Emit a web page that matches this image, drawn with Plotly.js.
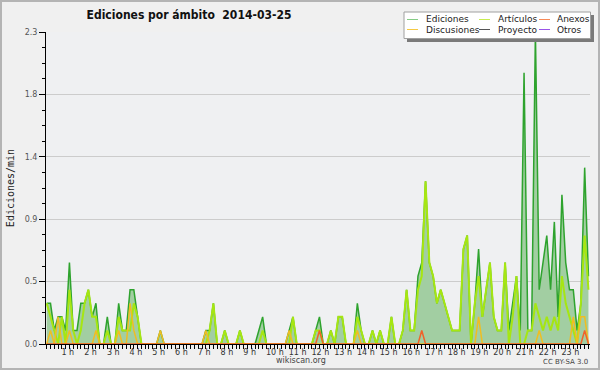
<!DOCTYPE html>
<html><head><meta charset="utf-8">
<script src="https://cdn.plot.ly/plotly-3.0.1.min.js"></script>
<style>
html,body{margin:0;padding:0;background:#f0f0f0;}
#chart{width:600px;height:370px;}
#frame{position:absolute;left:0;top:0;width:600px;height:370px;box-sizing:border-box;border:2px solid #b4b4b4;pointer-events:none;}
</style>
</head><body>
<div id="chart"></div><div id="frame"></div>
<script>
// 10-minute slots, 2014-03-25, values in edits per minute (one row = 2 hours)
const slotsPerHour = 6;
const ediciones = [
  0.3,0.3,0.1,0.2,0.2,0.1,0.6,0.1,0.1,0.3,0.3,0.4,
  0.2,0.3,0,0,0.2,0,0,0.3,0.1,0.1,0.4,0.4,
  0.2,0,0,0,0,0,0.1,0,0,0,0,0,
  0,0,0,0,0,0,0.1,0.1,0.3,0,0,0.1,
  0,0,0,0.1,0,0,0,0,0.1,0.2,0,0,
  0,0,0,0,0.1,0.2,0,0,0,0,0,0.1,
  0.2,0,0,0.1,0,0.2,0.2,0,0,0,0.3,0.1,
  0,0,0.1,0,0.1,0,0,0.2,0,0,0.1,0.4,
  0.1,0.1,0.5,0.6,1.2,0.6,0.5,0.3,0.4,0.3,0.2,0.1,
  0.1,0.1,0.7,0.8,0,0.3,0.7,0.2,0.4,0.6,0.2,0.1,
  0.1,0.6,0.1,0.3,0.5,0.1,2.0,0.1,0.1,2.3,0.4,0.6,
  0.8,0.4,0.9,0.2,1.1,0.6,0.4,0.4,0.1,0.3,1.3,0.5
];
const articulos = [
  0.3,0.2,0.1,0,0.2,0,0.4,0.1,0,0.1,0.3,0.4,
  0.2,0.2,0,0,0.1,0,0,0.2,0.1,0.1,0.1,0.3,
  0.2,0,0,0,0,0,0,0,0,0,0,0,
  0,0,0,0,0,0,0,0.1,0.3,0,0,0.1,
  0,0,0,0.1,0,0,0,0,0,0.1,0,0,
  0,0,0,0,0,0.2,0,0,0,0,0,0.1,
  0.1,0,0,0.1,0,0.2,0.2,0,0,0,0.2,0.1,
  0,0,0.1,0,0.1,0,0,0.2,0,0,0.1,0.4,
  0.1,0.1,0.4,0.5,1.2,0.6,0.5,0.3,0.4,0.3,0.2,0.1,
  0.1,0.1,0.7,0.8,0,0.3,0.5,0.2,0.4,0.6,0.2,0.1,
  0.1,0.6,0,0.2,0.5,0,0,0.1,0.1,0.3,0.2,0.1,
  0.2,0.1,0.2,0.1,0.5,0.3,0.2,0.1,0,0.3,0.8,0.4
];
const discusiones = [
  0,0.1,0,0.2,0,0,0.1,0,0,0,0,0,
  0,0.1,0,0,0,0,0,0.1,0,0,0.3,0.1,
  0,0,0,0,0,0,0.1,0,0,0,0,0,
  0,0,0,0,0,0,0.1,0,0,0,0,0,
  0,0,0,0,0,0,0,0,0,0,0,0,
  0,0,0,0,0.1,0,0,0,0,0,0,0,
  0,0,0,0,0,0,0,0,0,0,0.1,0,
  0,0,0,0,0,0,0,0,0,0,0,0,
  0,0,0,0,0,0,0,0,0,0,0,0,
  0,0,0,0,0,0,0.2,0,0,0,0,0,
  0,0,0,0,0,0,0,0,0,0,0.1,0,
  0,0,0,0,0,0,0,0.2,0,0.2,0.2,0
];
const anexos = [
  0,0,0,0,0,0,0,0,0,0,0,0,
  0,0,0,0,0,0,0,0,0,0,0,0,
  0,0,0,0,0,0,0,0,0,0,0,0,
  0,0,0,0,0,0,0,0,0,0,0,0,
  0,0,0,0,0,0,0,0,0,0,0,0,
  0,0,0,0,0,0,0,0,0,0,0,0,
  0.1,0,0,0,0,0,0,0,0,0,0,0,
  0,0,0,0,0,0,0,0,0,0,0,0,
  0,0,0,0.1,0,0,0,0,0,0,0,0,
  0,0,0,0,0,0,0,0,0,0,0,0,
  0,0,0,0,0,0,0,0,0,0,0,0,
  0,0,0,0,0,0,0,0,0,0,0.1,0
];
const hourTicks = [1,2,3,4,5,6,7,8,9,10,11,12,13,14,15,16,17,18,19,20,21,22,23];
const hourLabels = ['1 h','2 h','3 h','4 h','5 h','6 h','7 h','8 h','9 h','10 h','11 h','12 h','13 h','14 h','15 h','16 h','17 h','18 h','19 h','20 h','21 h','22 h','23 h'];
const yTicks = [0, 0.46, 0.92, 1.38, 1.84, 2.3];
const yLabels = ['0.0','0.5','0.9','1.4','1.8','2.3'];
const legendNames = [['Ediciones','Discusiones'],['Artículos','Proyecto'],['Anexos','Otros']];
const legendColors = [['#86cc86','#f5c944'],['#c8ec50','#555555'],['#f78a58','#9a55e8']];

const x = ediciones.map((_, i) => i / slotsPerHour);

// geometry helpers (pixels -> paper)
const L = 46, R = 10, T = 32, B = 26, W = 600, H = 370;
const pw = W - L - R, ph = H - T - B;
const px = v => (v - L) / pw;
const py = v => (H - B - v) / ph;

const traces = [
  {x, y: ediciones, name: 'Ediciones', mode: 'lines', fill: 'tozeroy',
   fillcolor: '#a2cea2', line: {color: '#2ea32e', width: 1.5}},
  {x, y: articulos, name: 'Artículos', mode: 'lines', line: {color: '#a6e612', width: 2}},
  {x, y: discusiones, name: 'Discusiones', mode: 'lines', line: {color: '#f0bd22', width: 1.5}},
  {x, y: anexos, name: 'Anexos', mode: 'lines', line: {color: '#f0622a', width: 1.5}}
];

const shapes = [
  {type:'rect', xref:'paper', yref:'paper', x0:px(407), x1:px(594), y0:py(42), y1:py(15),
   fillcolor:'#7a7a7a', line:{width:0}, layer:'above'},
  {type:'rect', xref:'paper', yref:'paper', x0:px(404), x1:px(590.5), y0:py(38.5), y1:py(12),
   fillcolor:'#ffffff', line:{color:'#a0a0a0', width:1}, layer:'above'}
];
const annotations = [];
const colSwatch = [407, 479, 539];
const colText = [424, 496, 555];
const rowY = [19.5, 29.5];
legendNames.forEach((col, c) => col.forEach((name, r) => {
  shapes.push({type:'line', xref:'paper', yref:'paper', x0:px(colSwatch[c]), x1:px(colSwatch[c]+11),
    y0:py(rowY[r]), y1:py(rowY[r]), line:{color:legendColors[c][r], width:1}, layer:'above'});
  annotations.push({xref:'paper', yref:'paper', x:px(colText[c]), y:py(rowY[r]), text:name,
    showarrow:false, xanchor:'left', yanchor:'middle',
    font:{family:'DejaVu Sans', size:9, color:'#222'}});
}));
annotations.push({xref:'paper', yref:'paper', x:px(300.5), y:py(360), text:'wikiscan.org', showarrow:false,
  xanchor:'center', yanchor:'middle', font:{family:'DejaVu Sans', size:8, color:'#444'}});
annotations.push({xref:'paper', yref:'paper', x:px(590), y:py(362), text:'CC BY-SA 3.0', showarrow:false,
  xanchor:'right', yanchor:'middle', font:{family:'DejaVu Sans', size:7, color:'#444'}});

const layout = {
  width: W, height: H,
  margin: {l: L, r: R, t: T, b: B, pad: 0},
  paper_bgcolor: '#f0f0f0', plot_bgcolor: '#eff0f2',
  showlegend: false,
  title: {text: 'Ediciones por ámbito \u00a02014-03-25', x: 189/600, xanchor: 'center',
          y: 1 - 14.5/370, yanchor: 'middle',
          font: {family: 'DejaVu Sans Condensed, DejaVu Sans, sans-serif', size: 12, weight: 'bold', color: '#111'}},
  xaxis: {range: [-0.7/22.74, 23 + 20.5/22.74], showgrid: false, zeroline: false,
          showline: true, linecolor: '#000', linewidth: 1,
          tickmode: 'array', tickvals: hourTicks, ticktext: hourLabels, tickangle: 0,
          ticks: 'outside', ticklen: 4, tickcolor: '#000', tickwidth: 1,
          ticklabelposition: 'outside right', ticklabelshift: -9, ticklabelstandoff: 0,
          minor: {tickmode: 'linear', tick0: 0, dtick: 1/6, ticks: 'outside', ticklen: 4, tickcolor: '#000', tickwidth: 1, showgrid: false},
          tickfont: {family: 'DejaVu Sans', size: 8, color: '#333'}, fixedrange: true},
  yaxis: {range: [0, 2.3], showgrid: true, gridcolor: '#cccccc', gridwidth: 1, zeroline: false,
          showline: true, linecolor: '#000', linewidth: 1,
          tickmode: 'array', tickvals: yTicks, ticktext: yLabels,
          ticks: 'outside', ticklen: 6, tickcolor: '#000', tickwidth: 1,
          minor: {tickmode: 'linear', tick0: 0, dtick: 0.115, ticks: 'outside', ticklen: 3, tickcolor: '#000', tickwidth: 1, showgrid: false},
          tickfont: {family: 'DejaVu Sans', size: 8, color: '#555'},
          title: {text: 'Ediciones/min', standoff: 8, font: {family: 'DejaVu Sans Mono', size: 10, color: '#222'}},
          fixedrange: true},
  shapes, annotations
};
Plotly.newPlot('chart', traces, layout, {displayModeBar: false, staticPlot: true});
</script>
</body></html>
